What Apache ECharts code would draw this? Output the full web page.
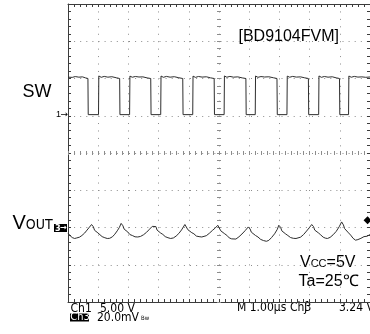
<!DOCTYPE html>
<html>
<head>
<meta charset="utf-8">
<script src="https://cdn.jsdelivr.net/npm/echarts@6/dist/echarts.min.js"></script>
<style>
html,body{margin:0;padding:0;background:#fff;}
#chart{width:370px;height:334px;}
</style>
</head>
<body>
<div id="chart"></div>
<script>
// ---- Data (time in µs, SW in volts, VOUT ripple in mV relative to its marker) ----
const swT = [0.00,0.06,0.14,0.24,0.36,0.48,0.58,0.66,0.67,
  1.01,1.02,1.10,1.20,1.32,1.45,1.60,1.71,1.72,
  2.04,2.05,2.13,2.23,2.35,2.48,2.62,2.74,2.75,
  3.07,3.08,3.16,3.26,3.38,3.52,3.67,3.80,3.81,
  4.13,4.14,4.22,4.32,4.44,4.58,4.72,4.84,4.85,
  5.17,5.18,5.26,5.36,5.48,5.62,5.77,5.89,5.90,
  6.20,6.21,6.29,6.39,6.51,6.65,6.80,6.92,6.93,
  7.25,7.26,7.34,7.44,7.56,7.70,7.84,7.96,7.97,
  8.30,8.31,8.39,8.49,8.61,8.75,8.88,8.99,9.00,
  9.29,9.30,9.38,9.48,9.60,9.73,9.86,10.0];
const swV = [5.18,5.28,5.15,5.26,5.18,5.22,5.08,5.00,0.15,
  0.15,5.34,5.16,5.28,5.18,5.24,5.10,5.00,0.15,
  0.15,5.32,5.17,5.27,5.20,5.22,5.08,5.00,0.15,
  0.15,5.33,5.16,5.28,5.18,5.24,5.10,5.00,0.15,
  0.15,5.32,5.15,5.27,5.19,5.23,5.09,5.00,0.15,
  0.15,5.34,5.17,5.28,5.18,5.22,5.08,5.00,0.15,
  0.15,5.33,5.16,5.26,5.20,5.23,5.10,5.00,0.15,
  0.15,5.32,5.17,5.28,5.19,5.22,5.09,5.00,0.15,
  0.15,5.34,5.16,5.27,5.18,5.23,5.09,5.00,0.15,
  0.15,5.33,5.17,5.28,5.19,5.22,5.16,5.20];

const voT = [0.00,0.06,0.14,0.22,0.29,0.38,0.46,0.55,0.63,0.71,0.78,
  0.84,0.88,0.93,0.99,1.05,1.13,1.22,1.30,1.38,1.47,1.55,1.63,1.70,1.76,
  1.82,1.86,1.92,1.98,2.05,2.13,2.22,2.31,2.40,2.50,2.60,2.70,2.79,2.85,
  2.91,2.95,3.00,3.07,3.14,3.22,3.31,3.40,3.49,3.58,3.67,3.76,3.87,
  3.93,3.97,4.03,4.10,4.17,4.25,4.34,4.43,4.49,4.58,4.68,4.78,4.88,4.96,
  5.02,5.06,5.12,5.19,5.26,5.34,5.42,5.48,5.56,5.66,5.76,5.87,5.97,
  6.03,6.07,6.13,6.21,6.29,6.38,6.47,6.57,6.65,6.74,6.84,6.93,6.98,
  7.04,7.08,7.14,7.21,7.28,7.37,7.46,7.55,7.61,7.70,7.80,7.90,7.99,8.07,
  8.13,8.17,8.23,8.30,8.37,8.45,8.52,8.59,8.68,8.78,8.88,8.98,9.06,
  9.12,9.16,9.22,9.29,9.36,9.44,9.52,9.60,9.70,9.80,9.90,10.0];
const voMv = [-3.0,-4.2,-5.4,-5.9,-5.6,-5.2,-4.3,-3.0,-1.4,0.2,1.6,
  0.4,-1.5,-0.8,-2.9,-3.6,-4.9,-5.5,-5.9,-5.8,-5.0,-3.6,-1.8,0.0,2.2,
  0.9,-0.9,-0.2,-2.4,-3.8,-4.3,-5.0,-5.1,-4.8,-3.9,-2.6,-0.9,0.6,1.6,
  0.5,-1.4,-0.7,-3.0,-3.7,-4.9,-5.5,-5.9,-5.6,-4.6,-3.2,-1.3,1.6,
  0.6,-1.2,-0.6,-2.8,-3.4,-4.6,-4.9,-5.1,-5.1,-4.4,-3.1,-1.6,-0.2,1.2,
  0.2,-1.8,-1.1,-3.4,-4.2,-5.6,-6.1,-6.5,-6.2,-5.0,-3.5,-1.6,0.3,
  -0.8,-2.5,-1.9,-4.3,-5.1,-6.4,-7.0,-7.4,-6.9,-5.4,-3.4,-1.0,1.2,
  0.1,-1.8,-1.2,-3.5,-4.3,-5.4,-5.8,-5.9,-5.9,-5.2,-3.8,-1.9,-0.1,1.6,
  0.5,-1.4,-0.8,-3.0,-4.0,-5.2,-5.7,-5.9,-5.3,-3.9,-2.1,0.4,3.0,
  1.4,-0.6,0.1,-2.9,-4.1,-5.8,-6.8,-6.5,-5.8,-4.9,-4.7,-3.8];

const triggerMv = 3.9;            // trigger level marker on the right edge
const timeDivs = [0, 10];         // 1.00 µs/div
const swRange = [-25, 15];        // 5.00 V/div, ground 5 div from bottom
const voRange = [-40, 120];       // 20.0 mV/div, marker 2 div from bottom

// ---- Styles ----
const BORDER = '#3c3c3c', DOT = '#8c8c8c', TRACE = '#2e2e2e';
const rect = {left: 68, top: 4, width: 305, height: 298};
const SANS = '"Liberation Sans", Arial, sans-serif';
const NARROW = '"Liberation Sans Narrow", "DejaVu Sans Condensed", sans-serif';
const SCOPE = '"DejaVu Sans Condensed", "Liberation Sans Narrow", sans-serif';
const SYM = '"DejaVu Sans", sans-serif';

function frameAxis(extra) {
  return Object.assign({
    type: 'value',
    axisLine: {show: true, onZero: false, lineStyle: {color: BORDER, width: 1}},
    axisTick: {show: true, inside: true, length: 3, lineStyle: {color: BORDER}},
    minorTick: {show: true, splitNumber: 5, length: 3, lineStyle: {color: BORDER}},
    axisLabel: {show: false},
    splitLine: {show: false}
  }, extra);
}
function centerAxis(extra, inside, gridIndex) {
  return Object.assign({
    type: 'value', gridIndex: gridIndex,
    axisLine: {show: true, onZero: true, lineStyle: {color: 'rgba(0,0,0,0)'}},
    axisTick: {show: true, inside: inside, length: 2, lineStyle: {color: DOT}},
    minorTick: {show: true, splitNumber: 5, length: 2, lineStyle: {color: DOT}},
    axisLabel: {show: false},
    splitLine: {show: false}
  }, extra);
}

const chart = echarts.init(document.getElementById('chart'), null, {renderer: 'canvas'});
chart.setOption({
  animation: false,
  backgroundColor: '#fff',
  grid: [Object.assign({}, rect), Object.assign({}, rect), Object.assign({}, rect)],
  xAxis: [
    frameAxis({gridIndex: 0, min: timeDivs[0], max: timeDivs[1], interval: 1, position: 'bottom',
      splitLine: {show: true, lineStyle: {color: DOT, width: 1, type: [1, 6.44]}}}),
    frameAxis({gridIndex: 0, min: timeDivs[0], max: timeDivs[1], interval: 1, position: 'top'}),
    centerAxis({min: -5, max: 5, interval: 1}, false, 1),
    centerAxis({min: -5, max: 5, interval: 1}, true, 2)
  ],
  yAxis: [
    frameAxis({gridIndex: 0, min: swRange[0], max: swRange[1], interval: 5, position: 'left',
      splitLine: {show: true, lineStyle: {color: DOT, width: 1, type: [1, 5.1]}}}),
    frameAxis({gridIndex: 0, min: voRange[0], max: voRange[1], interval: 20, position: 'right'}),
    centerAxis({min: -4, max: 4, interval: 1}, false, 1),
    centerAxis({min: -4, max: 4, interval: 1}, true, 2)
  ],
  series: [
    {name: 'SW', type: 'line', xAxisIndex: 0, yAxisIndex: 0, symbol: 'none',
     lineStyle: {color: TRACE, width: 1}, z: 5,
     data: swT.map((t, i) => [t, swV[i]])},
    {name: 'VOUT', type: 'line', xAxisIndex: 0, yAxisIndex: 1, symbol: 'none',
     lineStyle: {color: TRACE, width: 1}, z: 5,
     data: voT.map((t, i) => [t, voMv[i]]),
     markPoint: {symbol: 'diamond', symbolSize: [8, 8], itemStyle: {color: '#000'},
       label: {show: false}, data: [{coord: [9.92, triggerMv]}]}}
  ],
  graphic: [
    {type: 'text', x: 22.5, y: 92, style: {text: 'SW', font: '18px ' + SANS, fill: '#000', verticalAlign: 'middle'}},
    {type: 'text', x: 56, y: 114.8, style: {text: '1', font: '9px ' + SANS, fill: '#000', verticalAlign: 'middle'}},
    {type: 'text', x: 68, y: 115, style: {text: '→', font: '9px ' + SYM, fill: '#000', align: 'right', verticalAlign: 'middle'}},
    {type: 'text', x: 12.5, y: 233.5, style: {text: '{a|V}{b|OUT}', fill: '#000', verticalAlign: 'bottom',
      rich: {a: {font: '20px ' + SANS, verticalAlign: 'bottom'}, b: {font: '14px ' + NARROW, verticalAlign: 'bottom', padding: [0, 0, 1, 0]}}}},
    {type: 'rect', shape: {x: 54, y: 224, width: 13, height: 8}, style: {fill: '#000'}},
    {type: 'text', x: 57.8, y: 228.2, style: {text: '3', font: 'bold 9px ' + SCOPE, fill: '#fff', align: 'center', verticalAlign: 'middle'}},
    {type: 'text', x: 67, y: 228.2, style: {text: '→', font: 'bold 8px ' + SYM, fill: '#fff', align: 'right', verticalAlign: 'middle'}},
    {type: 'text', x: 238.5, y: 37, style: {text: '[BD9104FVM]', font: '16px ' + SANS, fill: '#000', verticalAlign: 'middle'}},
    {type: 'text', x: 300, y: 270.5, style: {text: '{a|V}{b|CC}{a|=5V}', fill: '#000', verticalAlign: 'bottom',
      rich: {a: {font: '16px ' + SANS, verticalAlign: 'bottom'}, b: {font: '11px ' + SANS, verticalAlign: 'bottom', padding: [0, 0, 1, 0]}}}},
    {type: 'text', x: 298.5, y: 281.5, style: {text: 'Ta=25℃', font: '16px ' + SANS, fill: '#000', verticalAlign: 'middle'}},
    {type: 'text', x: 70.5, y: 309, style: {text: 'Ch1', font: '12px ' + SCOPE, fill: '#000', verticalAlign: 'middle'}},
    {type: 'text', x: 100, y: 309, style: {text: '5.00 V', font: '12px ' + SCOPE, fill: '#000', verticalAlign: 'middle'}},
    {type: 'rect', shape: {x: 70, y: 313.5, width: 19, height: 8}, style: {fill: '#000'}},
    {type: 'text', x: 70.3, y: 317.6, style: {text: 'Ch3', font: '11px ' + SCOPE, fill: '#fff', verticalAlign: 'middle'}},
    {type: 'text', x: 97, y: 317.6, style: {text: '20.0mV', font: '12px ' + SCOPE, fill: '#000', verticalAlign: 'middle'}},
    {type: 'text', x: 141, y: 318, style: {text: 'Bw', font: '6px ' + SCOPE, fill: '#000', verticalAlign: 'middle'}},
    {type: 'text', x: 237, y: 307.5, style: {text: 'M 1.00µs', font: '12px ' + SCOPE, fill: '#000', verticalAlign: 'middle'}},
    {type: 'text', x: 290, y: 307.5, style: {text: 'Ch3', font: '12px ' + SCOPE, fill: '#000', verticalAlign: 'middle'}},
    {type: 'text', x: 304, y: 307.5, style: {text: 'ʃ', font: '12px ' + SYM, fill: '#000', verticalAlign: 'middle'}},
    {type: 'text', x: 339, y: 307.5, style: {text: '3.24 V', font: '12px ' + SCOPE, fill: '#000', verticalAlign: 'middle'}}
  ]
});
</script>
</body>
</html>
